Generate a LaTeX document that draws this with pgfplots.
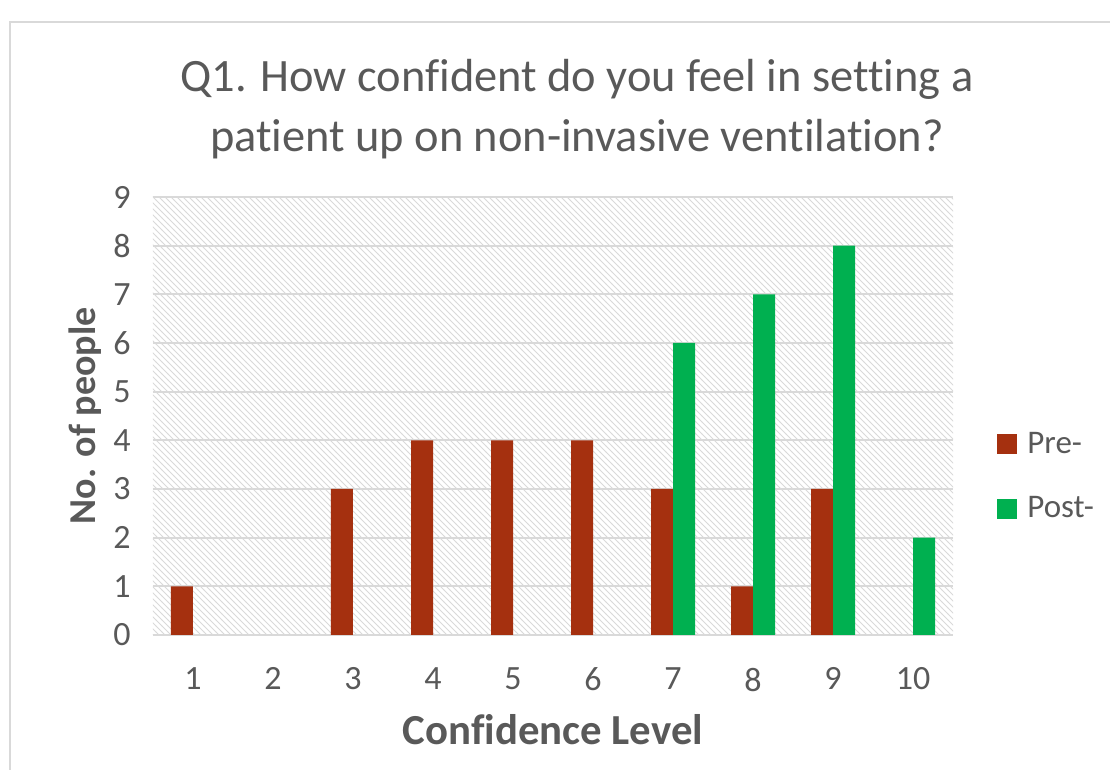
\documentclass[border=0pt]{standalone}
\usepackage{pgfplots}
\pgfplotsset{compat=1.18}
\usepackage{fontspec}
\setmainfont{Carlito}[RawFeature=-liga]
\usetikzlibrary{patterns}
\definecolor{txt}{HTML}{595959}
\definecolor{grid}{HTML}{D9D9D9}
\definecolor{pre}{HTML}{A5300F}
\definecolor{post}{HTML}{00B050}
\begin{document}
\begin{tikzpicture}
\begin{axis}[
  at={(0,0)}, anchor=south west,
  scale only axis, width=400pt, height=219pt,
  xmin=0.5, xmax=10.5, ymin=0, ymax=9,
  ybar=0pt, bar width=11pt,
  xtick={1,...,10}, ytick={0,...,9},
  axis x line*=bottom, axis y line*=left,
  x axis line style={draw=grid, line width=1pt},
  y axis line style={draw=none},
  ymajorgrids, grid style={draw=grid, line width=1pt},
  major tick style={draw=none},
  /pgf/number format/assume math mode=true,
  tick label style={font=\fontsize{17}{20}\selectfont, text=txt, inner sep=0pt},
  yticklabel style={anchor=east, xshift=-11pt},
  xticklabel style={anchor=north, yshift=-12pt},
  axis background/.style={pattern=north west lines, pattern color=grid},
  xlabel={Confidence Level},
  xlabel style={at={(rel axis cs:0.5,0)}, anchor=base, yshift=-55pt, font=\fontsize{21.4}{24}\selectfont\bfseries, text=txt},
  ylabel={No. of people},
  ylabel style={at={(rel axis cs:0,0.5)}, anchor=base, yshift=28.5pt, font=\fontsize{19}{22}\selectfont\bfseries, text=txt},
  legend style={at={(rel axis cs:1.055,0.362)}, anchor=west, draw=none, fill=none,
    font=\fontsize{16.5}{18}\selectfont, text=txt, row sep=16pt, inner sep=0pt,
    /tikz/every even column/.append style={column sep=5pt}},
  legend cell align=left,
  legend image code/.code={\fill[#1] (0pt,-5pt) rectangle (10pt,5pt);},
]
\addplot[fill=pre, draw=none] coordinates {(1,1) (3,3) (4,4) (5,4) (6,4) (7,3) (8,1) (9,3)};
\addplot[fill=post, draw=none] coordinates {(7,6) (8,7) (9,8) (10,2)};
\legend{\hspace{3pt}Pre-, \hspace{3pt}Post-}
\end{axis}
\node[anchor=base, font=\fontsize{23.2}{28}\selectfont, text=txt] at (212pt,271.5pt) {Q1. How confident do you feel in setting a};
\node[anchor=base, font=\fontsize{23.2}{28}\selectfont, text=txt] at (212pt,241.5pt) {patient up on non-invasive ventilation?};
\pgfresetboundingbox
\useasboundingbox (-76.5pt,-67.5pt) rectangle (478.5pt,317.5pt);
\draw[grid, line width=1pt] (-71.5pt,-80pt) rectangle (490pt,306.5pt);
\end{tikzpicture}
\end{document}
